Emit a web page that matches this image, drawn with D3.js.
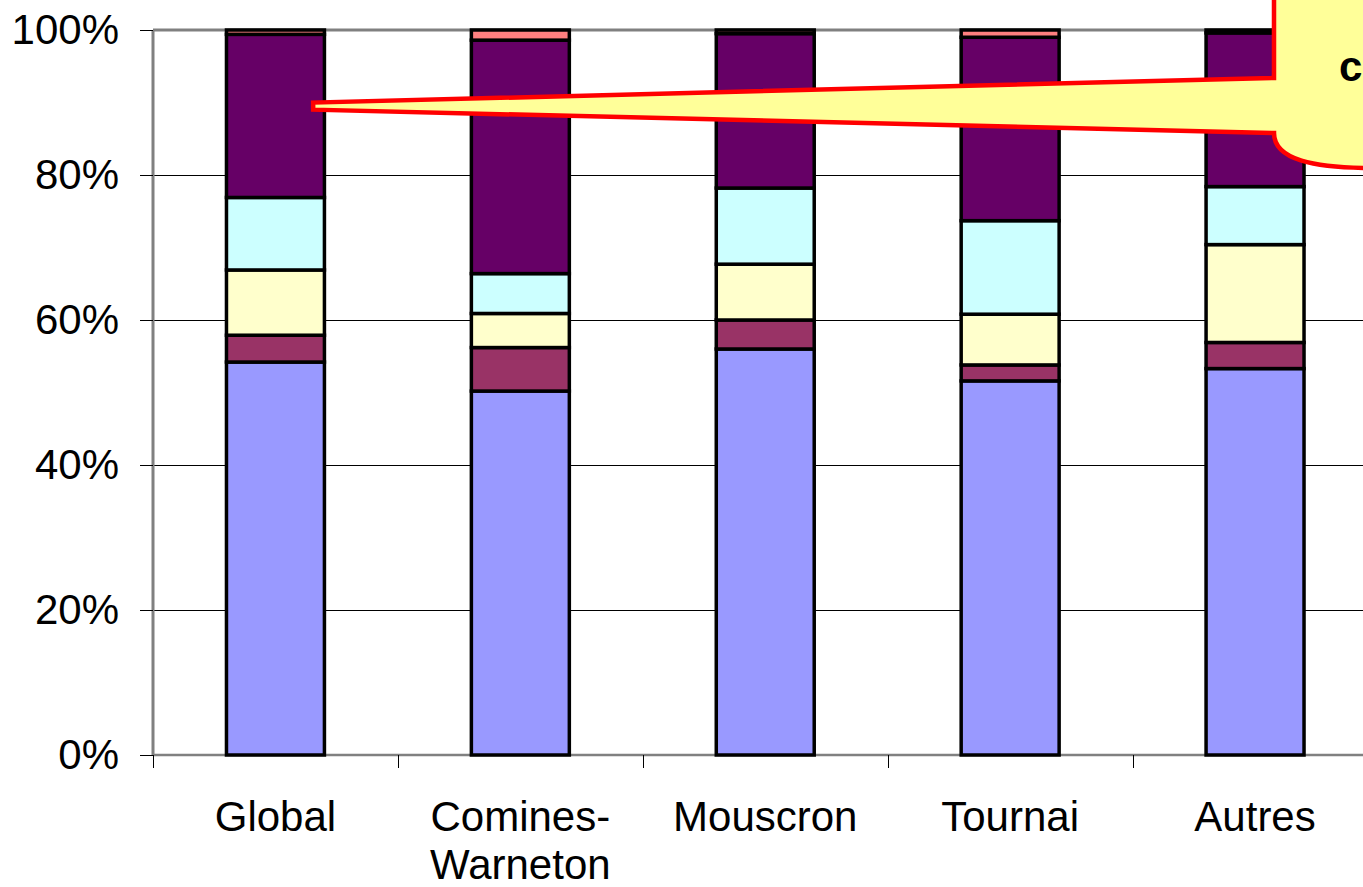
<!DOCTYPE html>
<html>
<head>
<meta charset="utf-8">
<script src="https://cdn.jsdelivr.net/npm/d3@7"></script>
<style>
  html, body { margin: 0; padding: 0; background: #fff; }
  svg { display: block; }
  text { font-family: "Liberation Sans", Arial, sans-serif; }
</style>
</head>
<body>
<svg id="chart" width="1363" height="887"></svg>
<script>
// ---- data ----
const categories = ["Global", "Comines-Warneton", "Mouscron", "Tournai", "Autres"];
const categoryLines = [["Global"], ["Comines-", "Warneton"], ["Mouscron"], ["Tournai"], ["Autres"]];
const seriesNames = ["S1", "S2", "S3", "S4", "S5", "S6"];
const seriesColors = ["#9999FF", "#993366", "#FFFFCC", "#CCFFFF", "#660066", "#FF8080"];
const s1 = [54.2, 50.2, 56.0, 51.6, 53.3];
const s2 = [3.7, 6.0, 4.0, 2.2, 3.6];
const s3 = [9.0, 4.7, 7.7, 7.0, 13.5];
const s4 = [10.0, 5.5, 10.5, 12.9, 8.0];
const s5 = [22.5, 32.2, 21.3, 25.3, 21.2];
const s6 = [0.6, 1.4, 0.5, 1.0, 0.4];
const yTicks = [0, 0.2, 0.4, 0.6, 0.8, 1.0];
const calloutText = "c";

// ---- layout ----
const svg = d3.select("#chart");
const margin = { left: 153, top: 30, bottom: 132 };
const plotRight = 1377.5;
const H = 887;

const rows = categories.map((c, i) => {
  const vals = [s1[i], s2[i], s3[i], s4[i], s5[i], s6[i]];
  const tot = d3.sum(vals);
  const o = { cat: c };
  seriesNames.forEach((s, k) => o[s] = vals[k] / tot);
  return o;
});
const stacked = d3.stack().keys(seriesNames)(rows);

const x = d3.scaleBand().domain(categories).range([margin.left, plotRight])
  .paddingInner(0.6).paddingOuter(0.3);
const y = d3.scaleLinear().domain([0, 1]).range([H - margin.bottom, margin.top]);
const step = x.step();

// gridlines
svg.append("g").selectAll("line").data(yTicks.filter(t => t > 0 && t < 1)).join("line")
  .attr("x1", margin.left).attr("x2", plotRight)
  .attr("y1", d => Math.round(y(d)) + 0.5).attr("y2", d => Math.round(y(d)) + 0.5)
  .attr("stroke", "#000").attr("stroke-width", 1)
  .attr("shape-rendering", "crispEdges");

// plot border (gray)
svg.append("line").attr("x1", margin.left).attr("x2", plotRight)
  .attr("y1", y(1)).attr("y2", y(1)).attr("stroke", "#808080").attr("stroke-width", 3);
svg.append("line").attr("x1", margin.left).attr("x2", margin.left)
  .attr("y1", y(1)).attr("y2", y(0)).attr("stroke", "#808080").attr("stroke-width", 3);
svg.append("line").attr("x1", margin.left).attr("x2", plotRight)
  .attr("y1", y(0)).attr("y2", y(0)).attr("stroke", "#808080").attr("stroke-width", 2.5);

// bars
svg.append("g").selectAll("g").data(stacked).join("g")
  .attr("fill", (d, i) => seriesColors[i])
  .selectAll("rect").data(d => d).join("rect")
  .attr("x", d => x(d.data.cat))
  .attr("width", x.bandwidth())
  .attr("y", d => y(d[1]))
  .attr("height", d => Math.max(0, y(d[0]) - y(d[1])))
  .attr("stroke", "#000").attr("stroke-width", 3.5);

// y axis
const yAxis = d3.axisLeft(y).tickValues(yTicks).tickFormat(d3.format(".0%"))
  .tickSize(13).tickPadding(21);
const ya = svg.append("g").attr("transform", `translate(${margin.left},0)`).call(yAxis);
ya.select(".domain").remove();
ya.selectAll(".tick line").attr("stroke", "#000").attr("stroke-width", 1)
  .attr("shape-rendering", "crispEdges");
ya.selectAll(".tick text").attr("font-size", 42).attr("fill", "#000")
  .attr("font-family", "Liberation Sans, Arial, sans-serif");

// x axis ticks at category boundaries
const bounds = d3.range(categories.length + 1).map(i => margin.left + i * step);
svg.append("g").selectAll("line").data(bounds).join("line")
  .attr("x1", d => Math.round(d) + 0.5).attr("x2", d => Math.round(d) + 0.5)
  .attr("y1", y(0)).attr("y2", y(0) + 13)
  .attr("stroke", "#000").attr("stroke-width", 1)
  .attr("shape-rendering", "crispEdges");

// x labels
const xl = svg.append("g").selectAll("text").data(categories).join("text")
  .attr("x", d => x(d) + x.bandwidth() / 2)
  .attr("y", 831)
  .attr("text-anchor", "middle")
  .attr("font-size", 42).attr("fill", "#000");
xl.each(function(d, i) {
  const t = d3.select(this);
  categoryLines[i].forEach((ln, k) => {
    t.append("tspan").attr("x", x(d) + x.bandwidth() / 2).attr("dy", k === 0 ? 0 : 48).text(ln);
  });
});

// callout (yellow bubble with red border) pointing into Global purple segment
const tipX = x("Global") + x.bandwidth() * 0.885;
const tipY = y(0.895);
const bx = 1274;
const path = `M${bx},-10 L${bx},78 L${tipX},${tipY - 3.5} L${tipX},${tipY + 3.5} L${bx},133 ` +
  `C${bx},160 ${bx + 40},168 ${bx + 100},168 L${bx + 140},168 L${bx + 140},-10 Z`;
svg.append("path").attr("d", path)
  .attr("fill", "#FFFF99").attr("stroke", "#FF0000").attr("stroke-width", 4.5)
  .attr("stroke-linejoin", "miter");
svg.append("text").attr("x", 1339).attr("y", 81)
  .attr("font-size", 42).attr("font-weight", "bold").attr("fill", "#000")
  .text(calloutText);
</script>
</body>
</html>
